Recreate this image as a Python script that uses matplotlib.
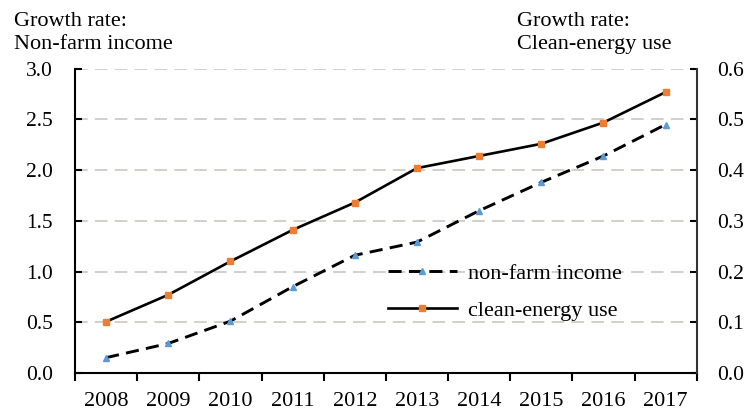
import matplotlib.pyplot as plt
import numpy as np

plt.rcParams['font.family'] = ['Liberation Serif', 'DejaVu Serif']

# Data
years = ['2008', '2009', '2010', '2011', '2012', '2013', '2014', '2015', '2016', '2017']
non_farm_income = [0.15, 0.29, 0.51, 0.85, 1.16, 1.29, 1.60, 1.88, 2.14, 2.45]
clean_energy_use = [0.101, 0.154, 0.220, 0.282, 0.336, 0.404, 0.428, 0.452, 0.494, 0.554]

left_ticks = [0.0, 0.5, 1.0, 1.5, 2.0, 2.5, 3.0]
right_ticks = [0.0, 0.1, 0.2, 0.3, 0.4, 0.5, 0.6]

fig = plt.figure(figsize=(7.5, 4.12), dpi=100)
ax = fig.add_axes([0.1, 0.095, 0.829, 0.738])
ax2 = ax.twinx()

x = np.arange(len(years))

# Gridlines (left axis)
for v in left_ticks[1:]:
    ax.axhline(v, color='#cfcac5', lw=1.3, ls=(0, (7, 4)), zorder=0)

ln1, = ax.plot(x, non_farm_income, color='black', lw=2.1, ls=(0, (4.5, 2.5)),
               marker='^', ms=4, mfc='#5b9bd5', mec='#5b9bd5', zorder=3)
ln2, = ax2.plot(x, clean_energy_use, color='black', lw=1.9,
                marker='s', ms=4, mfc='#ed7d31', mec='#ed7d31', zorder=3)

ax.set_xlim(-0.5, len(years) - 0.5)
ax.set_ylim(0, 3.0)
ax2.set_ylim(0, 0.6)

ax.set_yticks(left_ticks)
ax.set_yticklabels([f'{v:.1f}' for v in left_ticks])
ax2.set_yticks(right_ticks)
ax2.set_yticklabels([f'{v:.1f}' for v in right_ticks])

ax.set_xticks(x)
ax.set_xticklabels(years)
ax.set_xticks(np.arange(len(years) + 1) - 0.5, minor=True)
ax.tick_params(axis='x', which='major', length=0, pad=14, labelsize=16)
ax.tick_params(axis='x', which='minor', length=6, width=1.5, direction='out')
ax.tick_params(axis='y', direction='in', length=5, width=1.5, pad=16, labelsize=15.5)
ax2.tick_params(axis='y', direction='in', length=5, width=1.5, pad=14.5, labelsize=15.5)

for a in (ax, ax2):
    a.spines['top'].set_visible(False)
    for s in ('left', 'right', 'bottom'):
        a.spines[s].set_linewidth(1.5)
ax.spines['right'].set_visible(False)
ax2.spines['left'].set_visible(False)
ax2.spines['bottom'].set_visible(False)
ax2.spines['right'].set_color('#333333')

fig.text(0.019, 0.972, 'Growth rate:\nNon-farm income', ha='left', va='top',
         fontsize=16, linespacing=1.35)
fig.text(0.689, 0.972, 'Growth rate:\nClean-energy use', ha='left', va='top',
         fontsize=16, linespacing=1.35)

leg = ax.legend([ln1, ln2], ['non-farm income', 'clean-energy use'],
                loc='upper left', bbox_to_anchor=(0.503, 0.36), frameon=False,
                fontsize=16, handlelength=3.1, handletextpad=0.5,
                labelspacing=0.75, borderpad=0, borderaxespad=0)

fig.savefig('out.png', dpi=100)
